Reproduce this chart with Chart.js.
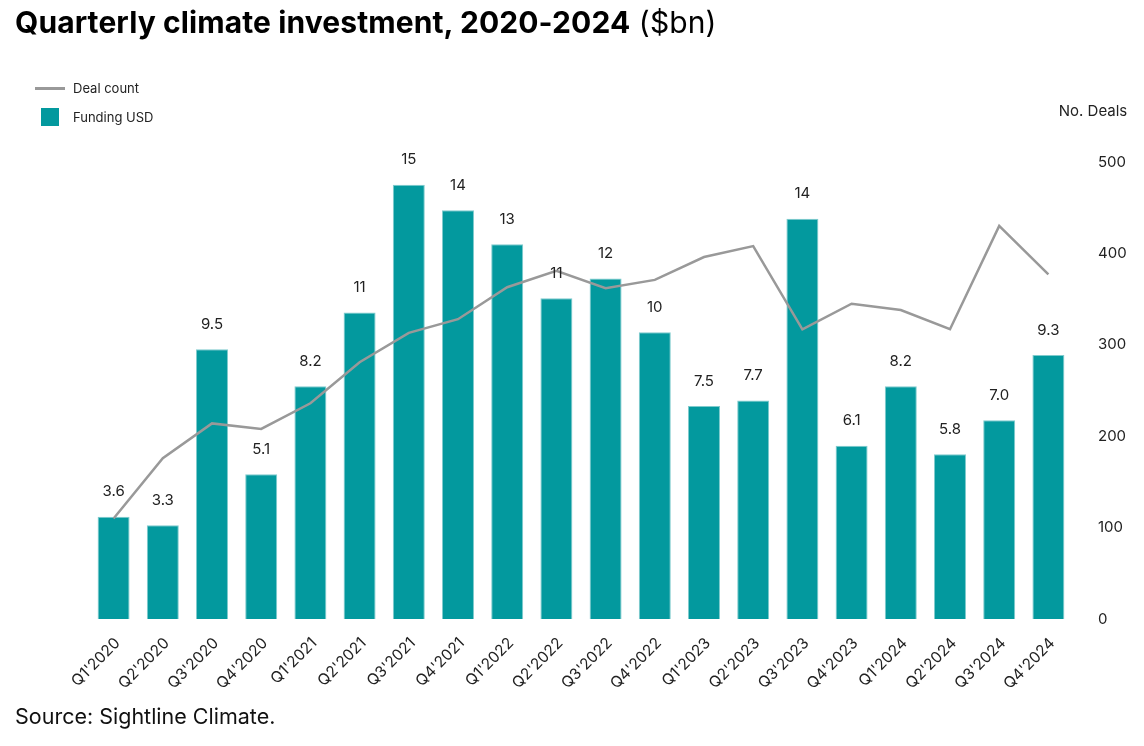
<!DOCTYPE html>
<html>
<head>
<meta charset="utf-8">
<script src="https://cdn.jsdelivr.net/npm/chart.js@4.4.0/dist/chart.umd.min.js"></script>
<style>
  html,body{margin:0;padding:0;background:#fff;}
  body{width:1144px;height:746px;position:relative;overflow:hidden;font-family:Inter,"Noto Sans",sans-serif;}
  #title{position:absolute;left:15px;top:7px;font-size:30px;line-height:1;color:#000;white-space:nowrap;letter-spacing:0.1px;}
  #title b{font-weight:700;}
  #legend{position:absolute;left:0;top:0;font-size:13px;color:#222;}
  .li{position:absolute;left:73px;height:20px;line-height:20px;white-space:nowrap;}
  .sw-line{position:absolute;left:35px;width:30px;height:3px;background:#999;}
  .sw-box{position:absolute;left:41px;width:18px;height:18px;background:#03999e;}
  #source{position:absolute;left:15px;top:706px;font-size:21.5px;line-height:1;color:#111;}
  #wrap{position:absolute;left:0;top:0;width:1144px;height:746px;}
</style>
</head>
<body>
<div id="wrap"><canvas id="c" width="1144" height="746"></canvas></div>
<div id="title"><b>Quarterly climate investment, 2020-2024</b> ($bn)</div>
<div id="legend">
  <span class="sw-line" style="top:87px"></span>
  <div class="li" style="top:78px">Deal count</div>
  <span class="sw-box" style="top:108px"></span>
  <div class="li" style="top:107px">Funding USD</div>
</div>
<div id="source">Source: Sightline Climate.</div>
<script>
const quarters = ["Q1'2020","Q2'2020","Q3'2020","Q4'2020","Q1'2021","Q2'2021","Q3'2021","Q4'2021","Q1'2022","Q2'2022","Q3'2022","Q4'2022","Q1'2023","Q2'2023","Q3'2023","Q4'2023","Q1'2024","Q2'2024","Q3'2024","Q4'2024"];
const fundingUSD = [3.6,3.3,9.5,5.1,8.2,10.8,15.3,14.4,13.2,11.3,12.0,10.1,7.5,7.7,14.1,6.1,8.2,5.8,7.0,9.3];
const dealCount = [110,176,214,208,236,281,313,328,363,381,362,371,396,408,317,345,338,317,430,377];
const dealTicks = [0,100,200,300,400,500];

const barLabels = {
  id:'barLabels',
  afterDatasetsDraw(chart){
    const ctx = chart.ctx;
    const meta = chart.getDatasetMeta(1);
    ctx.save();
    ctx.font = '15px Inter, sans-serif';
    ctx.fillStyle = '#222';
    ctx.textAlign = 'center';
    ctx.textBaseline = 'middle';
    meta.data.forEach((bar,i)=>{
      ctx.fillText(fundingUSD[i].toPrecision(2), bar.x, bar.y - 25);
    });
    ctx.restore();
  }
};
const axisTitle = {
  id:'axisTitle',
  afterDraw(chart){
    const s = chart.scales.y1;
    const ctx = chart.ctx;
    ctx.save();
    ctx.font = '15px Inter, sans-serif';
    ctx.fillStyle = '#222';
    ctx.textAlign = 'center';
    ctx.textBaseline = 'middle';
    ctx.fillText('No. Deals', s.left + 20, 111);
    ctx.restore();
  }
};

new Chart(document.getElementById('c'), {
  data:{
    labels: quarters,
    datasets:[
      {type:'line', label:'Deal count', data:dealCount, yAxisID:'y1', borderColor:'#999999', borderWidth:2.5, pointRadius:0, tension:0, order:0},
      {type:'bar', label:'Funding USD', data:fundingUSD, yAxisID:'y', backgroundColor:'#03999e', borderColor:'#7fcbcd', borderWidth:1, categoryPercentage:0.65, barPercentage:1, order:1}
    ]
  },
  options:{
    responsive:false,
    animation:false,
    layout:{padding:{left:89, right:11, top:162, bottom:27}},
    plugins:{legend:{display:false}, tooltip:{enabled:false}},
    scales:{
      x:{
        grid:{display:false}, border:{display:false},
        ticks:{minRotation:45, maxRotation:45, color:'#222', font:{family:'Inter', size:15.5}, padding:7, labelOffset:4},
        afterFit(s){ s.height = 100; }
      },
      y:{display:false, min:0, max:16.1},
      y1:{
        position:'right', min:0, max:500,
        grid:{display:false}, border:{display:false},
        afterBuildTicks(s){ s.ticks = dealTicks.map(v=>({value:v})); },
        ticks:{color:'#222', font:{family:'Inter', size:15}, padding:17},
        afterFit(s){ s.width = 60; }
      }
    }
  },
  plugins:[barLabels, axisTitle]
});
</script>
</body>
</html>
